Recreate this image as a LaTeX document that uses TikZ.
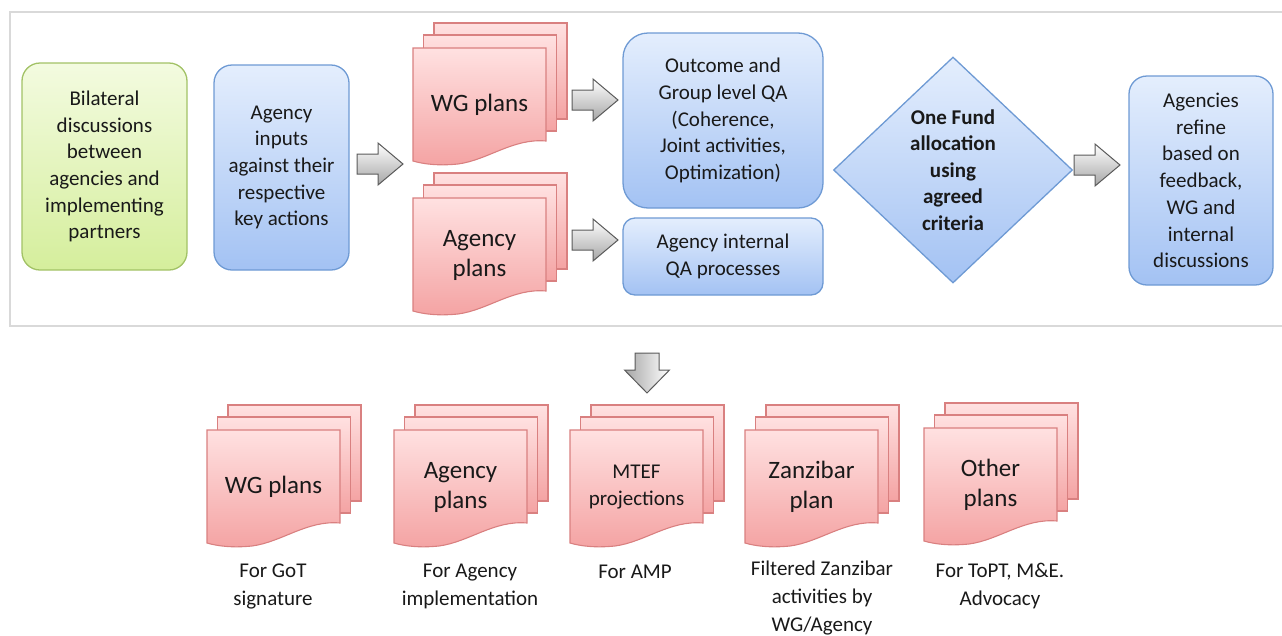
\documentclass[tikz,border=0pt]{standalone}
\usepackage{fontspec}
\setmainfont{Carlito}
\usetikzlibrary{shapes.geometric}
\definecolor{pinkT}{HTML}{FFE1E1}
\definecolor{pinkB}{HTML}{F4A3A3}
\definecolor{pinkD}{HTML}{D98080}
\definecolor{blueT}{HTML}{E4EEFD}
\definecolor{blueB}{HTML}{A3C2F3}
\definecolor{blueD}{HTML}{6E9AD4}
\definecolor{greenT}{HTML}{F3FBE0}
\definecolor{greenB}{HTML}{D5EE9C}
\definecolor{greenD}{HTML}{A2C266}
\definecolor{frameC}{HTML}{D9D9D9}
\definecolor{arrD}{HTML}{5A5A5A}
\tikzset{
 body/.style={font=\fontsize{21}{26.7}\selectfont, align=center, text=black!90},
 bluebox/.style={body, rectangle, rounded corners=18, draw=blueD, line width=1.3, top color=blueT, bottom color=blueB, inner sep=0},
 greenbox/.style={body, rectangle, rounded corners=18, draw=greenD, line width=1.3, top color=greenT, bottom color=greenB, inner sep=0},
 sheet/.style={draw=pinkD, line width=1.1, top color=pinkT, bottom color=pinkB},
 arrowfill/.style={draw=arrD, line width=1, line join=miter},
 doclabel/.style={font=\fontsize{25}{30}\selectfont, align=center, text=black!90},
 caption/.style={font=\fontsize{21}{28}\selectfont, align=center, text=black!90},
 docstack/.pic={
   \path[sheet] (21,-25) rectangle (154,71);
   \path[sheet] (10.5,-13) rectangle (143.5,83);
   \path[sheet] (0,0) -- (133,0) -- (133,93) .. controls (100,90) and (75,112) .. (45,116) .. controls (25,118) and (10,116) .. (0,113) -- cycle;
   \node[doclabel] (-t) at (66.5,57) {#1};
 },
 rarrow/.pic={
   \path[arrowfill, top color=white, bottom color=black!35] (0,-10) -- (21,-10) -- (21,-21) -- (46,0) -- (21,21) -- (21,10) -- (0,10) -- cycle;
   \coordinate (-tip) at (46,0);
 },
 darrow/.pic={
   \path[arrowfill, left color=black!35, right color=white] (-12,0) -- (12,0) -- (12,17) -- (22.5,17) -- (0,40) -- (-22.5,17) -- (-12,17) -- cycle;
   \coordinate (-tip) at (0,40);
 }
}
\begin{document}
\begin{tikzpicture}[x=1pt,y=-1pt]
\useasboundingbox (0,0) rectangle (1282,635);
\draw[frameC, line width=2] (10,12) rectangle (1292,326);

\node[greenbox, minimum width=165, minimum height=207] (bil) at (104.5,166.5) {Bilateral\\discussions\\between\\agencies and\\implementing\\partners};
\node[bluebox, minimum width=135, minimum height=205] (inp) at (281.5,167.5) {Agency\\inputs\\against their\\respective\\key actions};

\pic (wg) at (413,48) {docstack={WG plans}};
\pic (ag) at (413,198) {docstack={Agency\\plans}};

\node[bluebox, rounded corners=25, minimum width=200, minimum height=175] (oqa) at (723,120.5) {Outcome and\\Group level QA\\(Coherence,\\Joint activities,\\Optimization)};
\node[bluebox, rounded corners=12, minimum width=200, minimum height=77] (iqa) at (723,256.5) {Agency internal\\QA processes};

\node[diamond, draw=blueD, line width=1.3, top color=blueT, bottom color=blueB, minimum width=239, minimum height=226, inner sep=0] (fund) at (953,170) {};
\node[body, font={\fontsize{21}{26.5}\selectfont\bfseries}] (fundt) at (fund.center) {One Fund\\allocation\\using\\agreed\\criteria};

\node[bluebox, minimum width=144, minimum height=209] (ref) at (1201,180.5) {Agencies\\refine\\based on\\feedback,\\WG and\\internal\\discussions};

\pic (a1) at (357,164) {rarrow};
\pic (a2) at (572,100) {rarrow};
\pic (a3) at (572,240) {rarrow};
\pic (a4) at (1074,165) {rarrow};
\pic (a5) at (647,353) {darrow};

\pic (o1) at (207,430) {docstack={WG plans}};
\pic (o2) at (394,430) {docstack={Agency\\plans}};
\pic[doclabel/.append style={font=\fontsize{21}{27}\selectfont}] (o3) at (570,430) {docstack={MTEF\\projections}};
\pic (o4) at (745,430) {docstack={Zanzibar\\plan}};
\pic (o5) at (924,428) {docstack={Other\\plans}};

\node[caption] (c1) at (273,586) {For GoT\\signature};
\node[caption] (c2) at (470,586) {For Agency\\implementation};
\node[caption] (c3) at (635,572) {For AMP};
\node[caption] (c4) at (822,598) {Filtered Zanzibar\\activities by\\WG/Agency};
\node[caption] (c5) at (1000,586.5) {For ToPT, M\&E.\\Advocacy};
\end{tikzpicture}
\end{document}
